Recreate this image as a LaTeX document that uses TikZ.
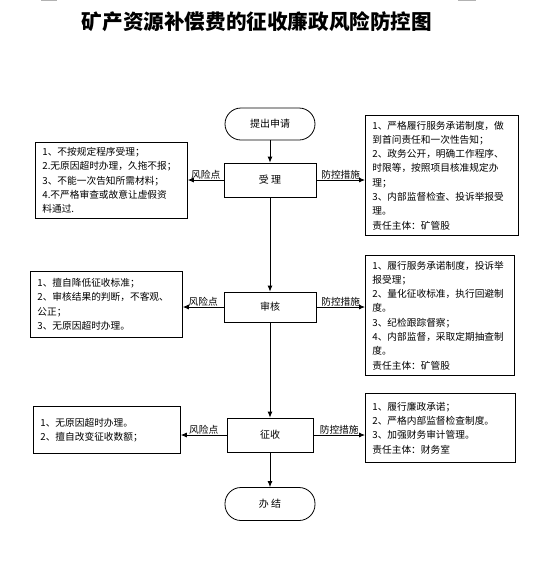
\documentclass[tikz,border=0pt]{standalone}
\usepackage{fontspec}
\setmainfont{Noto Sans CJK SC}
\usetikzlibrary{arrows.meta, positioning}

\begin{document}
\begin{tikzpicture}[x=1pt, y=-1pt,
  flow/.style={rectangle, draw, line width=0.8pt, minimum width=92pt, minimum height=34pt, inner sep=0pt, font=\fontsize{10}{12}\selectfont},
  term/.style={flow, rounded corners=16pt, minimum width=90pt, minimum height=32pt},
  risk/.style={rectangle, draw, line width=0.8pt, anchor=north west, align=left, inner xsep=7pt, inner ysep=0pt, font=\fontsize{9.7}{14.3}\selectfont},
  ctrl/.style={risk},
  e/.style={-{Latex[length=6pt, width=5pt]}, line width=0.8pt},
  lab/.style={midway, above, inner sep=0.5pt, font=\fontsize{9.7}{12}\selectfont}]
  \useasboundingbox (0,0) rectangle (553,582);
  % marks at the top edge
  \draw[gray!60, line width=1pt] (41,0.5) -- (57,0.5);
  \draw[gray!60, line width=1pt] (458,0.5) -- (476,0.5);
  \node[font=\fontsize{20.6}{24}\selectfont\bfseries] (title) at (257,22) {矿产资源补偿费的征收廉政风险防控图};
  % main flow
  \node[term] (start) at (270,124) {提出申请};
  \node[flow] (accept) at (270,180) {受\ 理};
  \node[flow, minimum height=30pt] (review) at (270,307) {审核};
  \node[flow, minimum width=86pt] (collect) at (270,435) {征收};
  \node[term, minimum height=33pt] (finish) at (270,504) {办\ 结};
  % risk points
  \node[risk, text width=138pt, minimum height=76pt] (risk1) at (35,142) {1、不按规定程序受理；\\2.无原因超时办理，久拖不报；\\3、不能一次告知所需材料；\\4.不严格审查或故意让虚假资\\料通过.};
  \node[risk, text width=138pt, minimum height=66pt] (risk2) at (30,271) {1、擅自降低征收标准；\\2、审核结果的判断，不客观、\\公正；\\3、无原因超时办理。};
  \node[risk, text width=133pt, minimum height=47pt] (risk3) at (33,406) {1、无原因超时办理。\\2、擅自改变征收数额；};
  % control measures
  \node[ctrl, text width=139pt, minimum height=120pt] (ctrl1) at (365,115) {1、严格履行服务承诺制度，做\\到首问责任和一次性告知；\\2、政务公开，明确工作程序、\\时限等，按照项目核准规定办\\理；\\3、内部监督检查、投诉举报受\\理。\\责任主体：矿管股};
  \node[ctrl, text width=135pt, minimum height=120pt] (ctrl2) at (365,255) {1、履行服务承诺制度，投诉举\\报受理；\\2、量化征收标准，执行回避制\\度。\\3、纪检跟踪督察；\\4、内部监督，采取定期抽查制\\度。\\责任主体：矿管股};
  \node[ctrl, text width=136pt, minimum height=69pt] (ctrl3) at (365,393) {1、履行廉政承诺；\\2、严格内部监督检查制度。\\3、加强财务审计管理。\\责任主体：财务室};
  % connectors
  \draw[e] (start) -- (accept);
  \draw[e] (accept) -- (review);
  \draw[e] (review) -- (collect);
  \draw[e] (collect) -- (finish);
  \draw[e] (accept.west) -- node[lab]{风险点} (accept.west -| risk1.east);
  \draw[e] (accept.east) -- node[lab]{防控措施} (accept.east -| ctrl1.west);
  \draw[e] (review.west) -- node[lab]{风险点} (review.west -| risk2.east);
  \draw[e] (review.east) -- node[lab]{防控措施} (review.east -| ctrl2.west);
  \draw[e] (collect.west) -- node[lab]{风险点} (collect.west -| risk3.east);
  \draw[e] (collect.east) -- node[lab]{防控措施} (collect.east -| ctrl3.west);
\end{tikzpicture}
\end{document}
